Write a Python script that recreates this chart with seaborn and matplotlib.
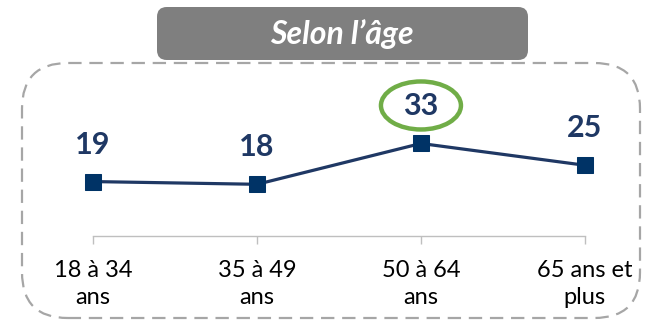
import matplotlib
matplotlib.use("Agg")
import matplotlib.pyplot as plt
from matplotlib.patches import FancyBboxPatch, Ellipse
import seaborn as sns
import pandas as pd

# Données
categories = ["18 à 34\nans", "35 à 49\nans", "50 à 64\nans", "65 ans et\nplus"]
values = [19, 18, 33, 25]
title = "Selon l’âge"

sns.set_theme(style="white")
plt.rcParams["font.family"] = ["Lato", "DejaVu Sans"]

W, H = 653, 322
fig = plt.figure(figsize=(W / 100, H / 100), dpi=100)

# Cadre pointillé arrondi
frame = FancyBboxPatch((22 / W, 4 / H), 618 / W, 255 / H,
                       boxstyle="round,pad=0,rounding_size=0.07",
                       transform=fig.transFigure, fill=False,
                       edgecolor="#A6A6A6", linewidth=1.6,
                       linestyle=(0, (6, 3.5)), mutation_aspect=W / H)
fig.patches.append(frame)

# Bandeau de titre
band = FancyBboxPatch((157 / W, 262 / H), 371 / W, 53 / H,
                      boxstyle="round,pad=0,rounding_size=0.015",
                      transform=fig.transFigure, facecolor="#7F7F7F",
                      edgecolor="none", mutation_aspect=W / H)
fig.patches.append(band)
fig.text(342 / W, 288 / H, title, color="white", fontsize=23,
         fontweight="bold", fontstyle="italic", ha="center", va="center")

ax = fig.add_axes([44 / W, 86 / H, 590 / W, 166 / H])
df = pd.DataFrame({"cat": range(len(categories)), "val": values})
navy = "#1F3864"
sns.lineplot(data=df, x="cat", y="val", ax=ax, color=navy, linewidth=2.3,
             marker="s", markersize=11, markerfacecolor="#003366",
             markeredgecolor="#003366")

ax.set_xlim(-0.3, 3.3)
ax.set_ylim(-1, 60)
ax.set_xticks(range(len(categories)))
ax.set_xticklabels(categories, fontsize=17, color="black", linespacing=1.4)
ax.set_yticks([])
ax.set_xlabel("")
ax.set_ylabel("")
for s in ["top", "left", "right"]:
    ax.spines[s].set_visible(False)
ax.spines["bottom"].set_color("#BFBFBF")
ax.spines["bottom"].set_linewidth(1.0)
ax.spines["bottom"].set_bounds(0, len(categories) - 1)
ax.tick_params(axis="x", direction="out", length=6, width=1.0,
               color="#BFBFBF", pad=11, bottom=True)
ax.patch.set_alpha(0)

# Étiquettes de valeurs
for i, v in enumerate(values):
    ax.annotate(str(v), (i, v), xytext=(0, 37), textcoords="offset pixels",
                ha="center", va="center", fontsize=22, fontweight="bold",
                color=navy)

# Mise en évidence du maximum
imax = values.index(max(values))
fig.canvas.draw()
px_x = ax.transData.transform((1, 0))[0] - ax.transData.transform((0, 0))[0]
px_y = ax.transData.transform((0, 1))[1] - ax.transData.transform((0, 0))[1]
ell = Ellipse((imax, values[imax] + 38 / px_y), 80 / px_x, 48 / px_y,
              fill=False, edgecolor="#70AD47", linewidth=3.2, clip_on=False)
ax.add_patch(ell)

fig.savefig("out.png", dpi=100)
